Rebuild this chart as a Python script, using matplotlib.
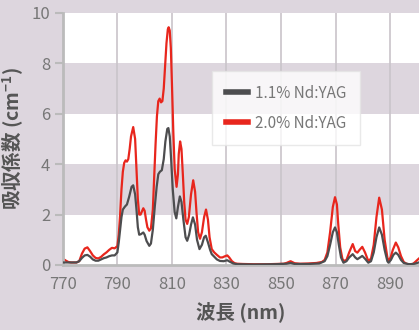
import matplotlib
matplotlib.use("Agg")
import matplotlib.pyplot as plt

# absorption spectra of Nd:YAG (wavelength in nm, coefficient in cm^-1)
wl_20 = [770, 771, 772, 773, 774, 775, 776, 777, 778, 779, 780, 781, 782, 783, 784, 785, 786, 787, 788, 789,
         790, 790.5, 791, 791.5, 792, 792.5, 793, 793.5, 794, 794.5, 795, 795.8, 796.5, 797, 797.5, 798, 798.5,
         799.5, 800, 800.5, 801, 801.7, 802.3, 803, 803.5, 804, 804.5, 805, 805.5, 806, 806.5, 807, 807.5, 808,
         808.5, 808.8, 809.2, 809.6, 810, 810.5, 811, 811.7, 812.2, 812.5, 813, 813.5, 814, 814.5, 815, 815.6,
         816.2, 817, 817.8, 818.5, 819, 819.6, 820.3, 821, 821.8, 822.5, 823.2, 823.8, 824.6, 825.5, 826.5,
         827.6, 828.5, 829.5, 830.3, 831, 832, 833, 834, 836, 840, 845, 848, 851, 852, 853.5, 855, 857, 860,
         863, 865, 866, 867, 868, 869, 869.8, 870.5, 871, 871.7, 872.5, 873, 874, 875, 876.3, 877.2, 878,
         878.8, 879.8, 880.8, 882, 883, 884, 885, 886, 887, 888, 889, 889.4, 890.2, 891, 892.1, 893, 894,
         895, 896, 897.3, 898.5, 899.5, 900.5]
abs_20 = [0.25, 0.18, 0.12, 0.1, 0.1, 0.1, 0.15, 0.45, 0.65, 0.7, 0.55, 0.38, 0.28, 0.26, 0.32, 0.42, 0.5, 0.6,
          0.68, 0.66, 0.75, 1.2, 2.0, 3.0, 3.7, 4.05, 4.15, 4.1, 4.2, 4.6, 5.1, 5.47, 5.0, 3.8, 2.6, 2.0, 2.0,
          2.25, 2.15, 1.8, 1.5, 1.36, 1.45, 2.2, 3.5, 4.8, 5.9, 6.5, 6.6, 6.45, 6.5, 7.0, 7.9, 8.8, 9.35, 9.43,
          9.3, 8.6, 7.2, 5.3, 3.8, 3.1, 3.6, 4.4, 4.9, 4.6, 3.6, 2.5, 1.8, 1.63, 1.9, 2.8, 3.36, 2.9, 2.1, 1.3,
          1.04, 1.3, 1.9, 2.2, 1.8, 1.1, 0.63, 0.5, 0.4, 0.3, 0.3, 0.35, 0.38, 0.3, 0.15, 0.07, 0.05, 0.04,
          0.03, 0.03, 0.04, 0.05, 0.08, 0.15, 0.07, 0.05, 0.06, 0.08, 0.12, 0.2, 0.5, 1.3, 2.3, 2.69, 2.4, 1.6,
          0.7, 0.25, 0.16, 0.2, 0.5, 0.83, 0.55, 0.49, 0.6, 0.72, 0.5, 0.16, 0.25, 0.8, 1.9, 2.67, 2.2, 1.0,
          0.3, 0.16, 0.3, 0.6, 0.89, 0.7, 0.35, 0.12, 0.05, 0.02, 0.05, 0.15, 0.25]

wl_11 = [770, 772, 775, 776, 777, 778, 779, 780, 781, 782, 783, 784, 785, 786, 787, 788, 789, 790, 790.5, 791,
         791.5, 792, 792.8, 793.5, 794.3, 795.2, 795.8, 796.5, 797, 797.5, 798, 798.6, 799.5, 800, 800.7, 801.7,
         802.3, 803, 803.7, 804.4, 805, 805.6, 806.3, 807, 807.6, 808.3, 808.7, 809.2, 809.7, 810.3, 811,
         811.6, 812.2, 812.9, 813.5, 814.2, 815, 815.6, 816.3, 817, 817.7, 818.5, 819.2, 820.1, 821, 821.8,
         822.4, 823.2, 824, 824.6, 825.5, 826.5, 827.6, 829, 830.3, 831.2, 832.5, 834, 840, 848, 852, 853.5,
         855, 860, 864, 866, 867, 868, 869, 869.8, 870.5, 871.2, 872, 872.9, 874, 875, 876.3, 877.2, 878, 879,
         879.8, 880.8, 882, 883, 884, 885, 886, 887, 888, 889, 889.4, 890.3, 891.2, 892.1, 893, 894, 895,
         896.5, 897.3, 899, 900.5]
abs_11 = [0.1, 0.1, 0.1, 0.15, 0.28, 0.38, 0.4, 0.33, 0.22, 0.17, 0.17, 0.22, 0.27, 0.3, 0.35, 0.38, 0.38, 0.5,
          0.9, 1.4, 1.9, 2.2, 2.32, 2.4, 2.7, 3.1, 3.16, 2.8, 2.2, 1.5, 1.2, 1.22, 1.29, 1.2, 0.95, 0.76, 0.85,
          1.4, 2.3, 3.1, 3.6, 3.7, 3.76, 4.2, 4.9, 5.4, 5.43, 5.1, 4.2, 3.0, 2.1, 1.85, 2.3, 2.72, 2.5, 1.8,
          1.1, 0.96, 1.2, 1.6, 1.89, 1.6, 1.0, 0.63, 0.8, 1.1, 1.16, 0.9, 0.6, 0.43, 0.33, 0.22, 0.16, 0.15,
          0.19, 0.13, 0.06, 0.03, 0.02, 0.03, 0.05, 0.08, 0.04, 0.04, 0.06, 0.15, 0.35, 0.8, 1.3, 1.49, 1.3,
          0.8, 0.3, 0.09, 0.15, 0.3, 0.43, 0.3, 0.23, 0.3, 0.36, 0.25, 0.09, 0.15, 0.5, 1.1, 1.49, 1.2, 0.6,
          0.15, 0.09, 0.2, 0.4, 0.49, 0.4, 0.2, 0.08, 0.04, 0.03, 0.05, 0.1]

labels = ["1.1% Nd:YAG", "2.0% Nd:YAG"]
x_ticks = [770, 790, 810, 830, 850, 870, 890]
y_ticks = [0, 2, 4, 6, 8, 10]

bg = "#ddd6de"
plt.rcParams["font.family"] = ["Noto Sans CJK JP", "DejaVu Sans"]

fig = plt.figure(figsize=(4.19, 3.30), dpi=100, facecolor=bg)
ax = fig.add_axes([0.150, 0.197, 0.850, 0.764])
ax.set_facecolor("white")

# alternating horizontal bands
for lo in (2, 6):
    ax.axhspan(lo, lo + 2, color=bg, zorder=0, lw=0)
for x in x_ticks[1:]:
    ax.axvline(x, color="#c9c4ca", lw=1.2, zorder=1)

ax.plot(wl_11, abs_11, color="#4d4d4f", lw=1.6, zorder=3, label=labels[0])
ax.plot(wl_20, abs_20, color="#e8261d", lw=1.6, zorder=2, label=labels[1])

ax.set_xlim(770, 900.6)
ax.set_ylim(0, 10)
ax.set_xticks(x_ticks)
ax.set_yticks(y_ticks)
ax.tick_params(axis="x", length=0, pad=8, labelsize=12, labelcolor="#777777")
ax.tick_params(axis="y", length=6, width=1.5, color="#bbbbbb", pad=3, labelsize=12, labelcolor="#777777")
for side in ("top", "right"):
    ax.spines[side].set_visible(False)
for side in ("left", "bottom"):
    ax.spines[side].set_color("#bbbbbb")
    ax.spines[side].set_linewidth(2)

ax.set_xlabel("波長 (nm)", fontsize=14, fontweight="bold", color="#555555", labelpad=6)
ax.set_ylabel(r"吸収係数 (cm$^{\mathregular{-1}}$)", fontsize=14, fontweight="bold", color="#555555",
              labelpad=4)

leg = ax.legend(loc="upper left", bbox_to_anchor=(0.42, 0.77), borderaxespad=0,
                frameon=True, fancybox=False, fontsize=11, handlelength=1.4, handletextpad=0.5,
                borderpad=0.9, labelspacing=0.85, labelcolor="#777777")
leg.get_frame().set_edgecolor("#e4e4e4")
leg.get_frame().set_linewidth(1)
for line in leg.get_lines():
    line.set_linewidth(4)

fig.savefig("out.png", dpi=100, facecolor=bg)
